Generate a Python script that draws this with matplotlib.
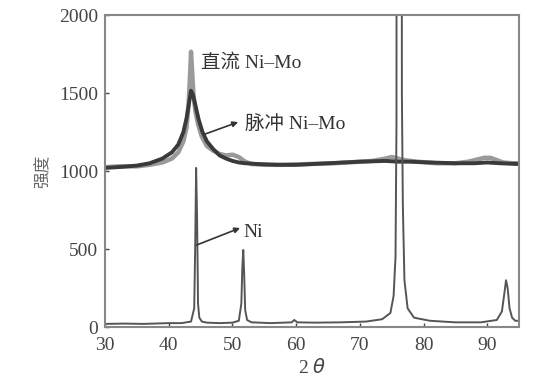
import matplotlib
matplotlib.use("Agg")
import matplotlib.pyplot as plt

plt.rcParams['font.family'] = ['Liberation Serif', 'Noto Sans CJK SC']

# Ni reference pattern
ni_x = [30, 33, 36, 40, 42, 43.5, 44.0, 44.15, 44.3, 44.45, 44.6, 44.8, 45.2, 46, 48, 50, 51.0, 51.4, 51.55, 51.7, 51.85, 52.0, 52.3, 53, 56, 59.3, 59.7, 60.2, 63, 67, 71, 73.5, 74.8, 75.3, 75.6, 75.75, 75.85, 76.15, 76.5, 76.6, 76.75, 77.0, 77.5, 78.5, 81, 85, 89, 91.5, 92.3, 92.7, 92.95, 93.2, 93.5, 93.9, 94.4, 95]
ni_y = [20, 22, 20, 25, 25, 35, 120, 500, 1020, 700, 150, 60, 35, 28, 25, 28, 40, 150, 380, 494, 330, 110, 45, 30, 25, 30, 45, 30, 28, 30, 35, 50, 90, 200, 450, 1300, 9000, 12000, 9000, 1500, 780, 300, 120, 60, 40, 30, 30, 45, 100, 220, 300, 250, 120, 60, 40, 40]

# DC (直流) Ni-Mo
dc_x = [30, 32, 35, 37, 39, 40.5, 41.5, 42.3, 42.8, 43.1, 43.35, 43.5, 43.7, 43.9, 44.2, 44.6, 45.2, 46, 47, 48, 49, 50, 51, 52, 53, 55, 58, 62, 66, 70, 72, 74, 75, 76, 77, 79, 82, 85, 87, 88.5, 89.5, 90.5, 91.5, 92.5, 94, 95]
dc_y = [1025, 1030, 1030, 1040, 1055, 1080, 1120, 1190, 1280, 1420, 1620, 1765, 1620, 1480, 1380, 1300, 1220, 1160, 1130, 1110, 1100, 1105, 1090, 1060, 1045, 1040, 1040, 1045, 1050, 1060, 1065, 1080, 1090, 1080, 1070, 1060, 1050, 1050, 1060, 1075, 1085, 1085, 1070, 1055, 1050, 1050]

# Pulse (脉冲) Ni-Mo
pu_x = [30, 32, 35, 37, 39, 40.5, 41.5, 42.3, 42.8, 43.2, 43.5, 43.8, 44.2, 44.7, 45.3, 46, 47, 48, 49, 50, 51, 52, 54, 57, 60, 65, 70, 74, 76, 78, 81, 85, 88, 90, 92, 95]
pu_y = [1020, 1025, 1035, 1050, 1080, 1120, 1170, 1250, 1340, 1440, 1515, 1490, 1420, 1330, 1250, 1190, 1140, 1100, 1080, 1065, 1055, 1050, 1045, 1040, 1040, 1050, 1060, 1065, 1060, 1060, 1055, 1050, 1050, 1055, 1050, 1045]

x_ticks = [30, 40, 50, 60, 70, 80, 90]
y_ticks = [0, 500, 1000, 1500, 2000]

fig = plt.figure(figsize=(5.47, 3.87), dpi=100)
ax = fig.add_axes([0.192, 0.155, 0.757, 0.806])

ax.plot(dc_x, dc_y, color='#9a9a9a', lw=3.2, solid_joinstyle='round')
ax.plot(pu_x, pu_y, color='#3a3a3a', lw=2.8, solid_joinstyle='round')
ax.plot(ni_x, ni_y, color='#555555', lw=1.4)

ax.set_xlim(30, 95)
ax.set_ylim(0, 2000)
ax.set_xticks(x_ticks)
ax.set_yticks(y_ticks)
ax.tick_params(direction='in', length=3, labelsize=14, colors='#444444', width=1)
ax.tick_params(axis='x', pad=7)
ax.tick_params(axis='y', pad=5)
for s in ax.spines.values():
    s.set_color('#888888')
    s.set_linewidth(1.5)

ax.set_xlabel('2 $\\theta$', fontsize=14, color='#444444', labelpad=3)
ax.set_ylabel('强度', fontsize=12, color='#666666', labelpad=5)

ax.text(45.1, 1692, '直流 Ni–Mo', fontsize=14, color='#333333', va='center', ha='left')
ax.text(52.0, 1300, '脉冲 Ni–Mo', fontsize=14, color='#333333', va='center', ha='left')
ax.text(51.7, 609, 'Ni', fontsize=14, color='#333333', va='center', ha='left')

arrow = dict(arrowstyle='-|>', color='#333333', lw=1.2, mutation_scale=8, shrinkA=0, shrinkB=0)
ax.annotate('', xy=(50.9, 1314), xytext=(45.7, 1237), arrowprops=arrow)
ax.annotate('', xy=(51.2, 635), xytext=(44.4, 526), arrowprops=arrow)

fig.savefig('out.png', dpi=100)
